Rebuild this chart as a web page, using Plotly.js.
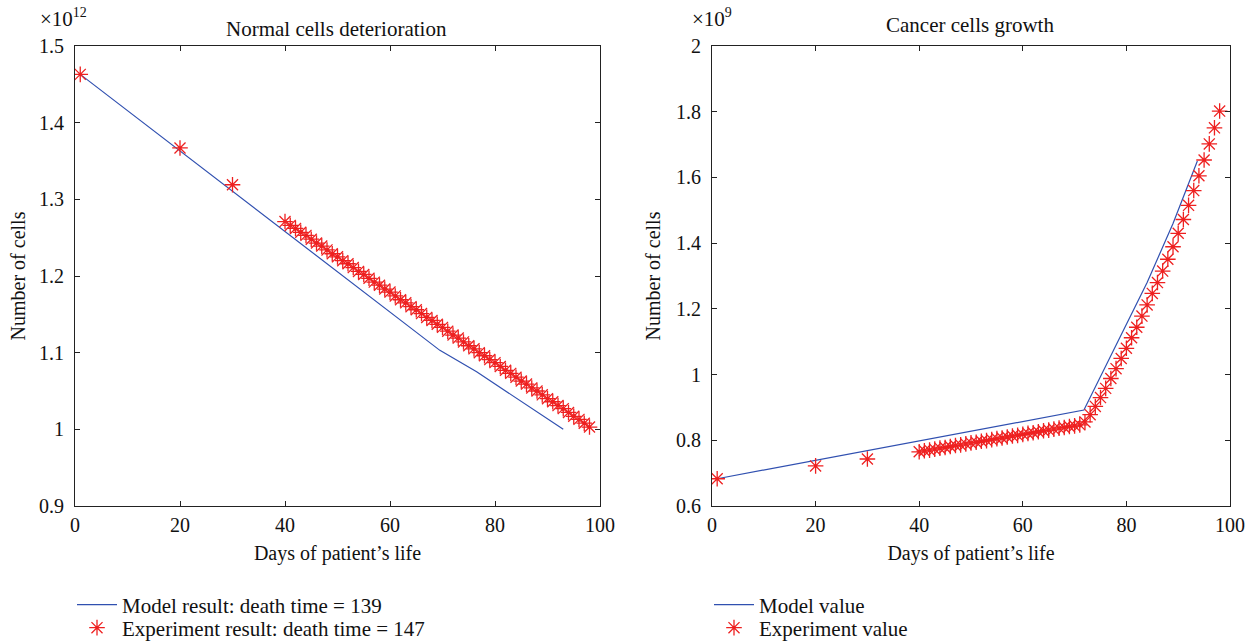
<!DOCTYPE html>
<html>
<head>
<meta charset="utf-8">
<script src="https://cdn.plot.ly/plotly-3.0.1.min.js"></script>
<style>html,body{margin:0;padding:0;background:#fff;}#chart{width:1255px;height:644px;}</style>
</head>
<body>
<div id="chart"></div>
<script>
// ---- Data (values shown in axis units: ×10^12 for normal cells, ×10^9 for cancer cells) ----
const normModelDays  = [1, 69.5, 76.5, 93];
const normModelCells = [1.463, 1.103, 1.075, 1.0];

const normExpDays = [1, 20, 30,
  40, 41, 42, 43, 44, 45, 46, 47, 48, 49, 50, 51, 52, 53, 54, 55, 56, 57, 58, 59,
  60, 61, 62, 63, 64, 65, 66, 67, 68, 69, 70, 71, 72, 73, 74, 75, 76, 77, 78, 79,
  80, 81, 82, 83, 84, 85, 86, 87, 88, 89, 90, 91, 92, 93, 94, 95, 96, 97, 98];
const normExpCells = [1.463, 1.367, 1.319,
  1.271, 1.266, 1.262, 1.257, 1.253, 1.248, 1.243, 1.239, 1.234, 1.229,
  1.225, 1.220, 1.216, 1.211, 1.206, 1.202, 1.197, 1.192, 1.188, 1.183,
  1.179, 1.174, 1.169, 1.165, 1.160, 1.156, 1.151, 1.146, 1.142, 1.137,
  1.133, 1.128, 1.123, 1.119, 1.114, 1.109, 1.105, 1.100, 1.096, 1.091,
  1.087, 1.082, 1.077, 1.073, 1.068, 1.063, 1.059, 1.054, 1.050, 1.045,
  1.040, 1.036, 1.031, 1.027, 1.022, 1.017, 1.013, 1.008, 1.003];

const cancerModelDays  = [1, 71.8, 84, 89, 93.7];
const cancerModelCells = [0.683, 0.892, 1.28, 1.46, 1.65];

const cancerExpDays = [1, 20, 30,
  40, 41, 42, 43, 44, 45, 46, 47, 48, 49, 50, 51, 52, 53, 54, 55, 56, 57, 58, 59,
  60, 61, 62, 63, 64, 65, 66, 67, 68, 69, 70, 71, 72, 73, 74, 75, 76, 77, 78, 79,
  80, 81, 82, 83, 84, 85, 86, 87, 88, 89, 90, 91, 92, 93, 94, 95, 96, 97, 98];
const cancerExpCells = [0.683, 0.722, 0.743,
  0.765, 0.768, 0.770, 0.773, 0.776, 0.778, 0.781, 0.784, 0.786, 0.789,
  0.792, 0.794, 0.797, 0.799, 0.802, 0.805, 0.807, 0.810, 0.813, 0.815,
  0.818, 0.821, 0.823, 0.826, 0.829, 0.831, 0.834, 0.837, 0.839, 0.842,
  0.844, 0.847, 0.856, 0.878, 0.903, 0.930, 0.958, 0.988, 1.018, 1.049,
  1.080, 1.112, 1.144, 1.178, 1.212, 1.247, 1.280, 1.315, 1.351, 1.389,
  1.430, 1.472, 1.515, 1.560, 1.605, 1.653, 1.702, 1.751, 1.802];

const leftNames  = ["Model result: death time = 139", "Experiment result: death time = 147"];
const rightNames = ["Model value", "Experiment value"];
const titles = ["Normal cells deterioration", "Cancer cells growth"];
const xTitle = "Days of patient\u2019s life";
const yTitle = "Number of cells";

// ---- Styling ----
const FONT = "Liberation Serif, Times New Roman, serif";
const BLUE = "#3050b0";
const RED = "#ee2020";
const W = 1255, H = 644;
const px = v => v / W;
const py = v => 1 - v / H;

const marker = {symbol: "asterisk-open", size: 13, color: RED, line: {color: RED, width: 1.3}};

const traces = [
  {x: normModelDays, y: normModelCells, mode: "lines", name: leftNames[0],
   line: {color: BLUE, width: 1.2}, xaxis: "x", yaxis: "y", legend: "legend"},
  {x: normExpDays, y: normExpCells, mode: "markers", name: leftNames[1],
   marker: marker, xaxis: "x", yaxis: "y", legend: "legend2"},
  {x: cancerModelDays, y: cancerModelCells, mode: "lines", name: rightNames[0],
   line: {color: BLUE, width: 1.2}, xaxis: "x2", yaxis: "y2", legend: "legend3"},
  {x: cancerExpDays, y: cancerExpCells, mode: "markers", name: rightNames[1],
   marker: marker, xaxis: "x2", yaxis: "y2", legend: "legend4"}
];

function axisCommon() {
  return {
    showline: true, linecolor: "#222", linewidth: 1, mirror: "ticks",
    ticks: "inside", ticklen: 5, tickwidth: 1, tickcolor: "#222",
    showgrid: false, zeroline: false, automargin: false,
    tickfont: {family: FONT, size: 20, color: "#111"},
    fixedrange: true
  };
}
const axTitleFont = {family: FONT, size: 20, color: "#111"};

const xa = Object.assign(axisCommon(), {
  domain: [px(75), px(600)], range: [0, 100], tickvals: [0, 20, 40, 60, 80, 100],
  anchor: "y", ticklabelstandoff: 1,
  title: {text: xTitle, font: axTitleFont, standoff: 10}
});
const ya = Object.assign(axisCommon(), {
  domain: [py(506), py(46)], range: [0.9, 1.5], tickvals: [0.9, 1, 1.1, 1.2, 1.3, 1.4, 1.5],
  ticktext: ["0.9", "1", "1.1", "1.2", "1.3", "1.4", "1.5"],
  anchor: "x", ticklabelstandoff: 6,
  title: {text: yTitle, font: axTitleFont, standoff: 8}
});
const xa2 = Object.assign(axisCommon(), {
  domain: [px(712), px(1230)], range: [0, 100], tickvals: [0, 20, 40, 60, 80, 100],
  anchor: "y2", ticklabelstandoff: 1,
  title: {text: xTitle, font: axTitleFont, standoff: 10}
});
const ya2 = Object.assign(axisCommon(), {
  domain: [py(506), py(46)], range: [0.6, 2], tickvals: [0.6, 0.8, 1, 1.2, 1.4, 1.6, 1.8, 2],
  ticktext: ["0.6", "0.8", "1", "1.2", "1.4", "1.6", "1.8", "2"],
  anchor: "x2", ticklabelstandoff: 6,
  title: {text: yTitle, font: axTitleFont, standoff: 10}
});

const legendCommon = {
  orientation: "v", xanchor: "left", yanchor: "middle", bgcolor: "rgba(0,0,0,0)",
  font: {family: FONT, size: 21, color: "#111"}, itemwidth: 40
};
const mkLegend = (x, y) => Object.assign({}, legendCommon, {x: px(x), y: py(y)});

const supStyle = "font-size:14px";

const layout = {
  width: W, height: H,
  margin: {l: 0, r: 0, t: 0, b: 0, autoexpand: false},
  paper_bgcolor: "#fff", plot_bgcolor: "#fff",
  showlegend: true,
  font: {family: FONT, color: "#111"},
  xaxis: xa, yaxis: ya, xaxis2: xa2, yaxis2: ya2,
  legend:  mkLegend(72, 605),
  legend2: mkLegend(72, 628),
  legend3: mkLegend(709, 605),
  legend4: mkLegend(709, 628),
  annotations: [
    {text: titles[0], xref: "paper", yref: "paper", x: px(337), y: py(29),
     xanchor: "center", yanchor: "middle", showarrow: false,
     font: {family: FONT, size: 21, color: "#111"}},
    {text: titles[1], xref: "paper", yref: "paper", x: px(970), y: py(25),
     xanchor: "center", yanchor: "middle", showarrow: false,
     font: {family: FONT, size: 21, color: "#111"}},
    {text: "\u00d710<sup><span style='" + supStyle + "'>12</span></sup>", xref: "paper", yref: "paper",
     x: px(38), y: py(18), xanchor: "left", yanchor: "middle", showarrow: false,
     font: {family: FONT, size: 21, color: "#111"}},
    {text: "\u00d710<sup><span style='" + supStyle + "'>9</span></sup>", xref: "paper", yref: "paper",
     x: px(690), y: py(18), xanchor: "left", yanchor: "middle", showarrow: false,
     font: {family: FONT, size: 21, color: "#111"}}
  ]
};

Plotly.newPlot("chart", traces, layout, {displayModeBar: false, staticPlot: true});
</script>
</body>
</html>
